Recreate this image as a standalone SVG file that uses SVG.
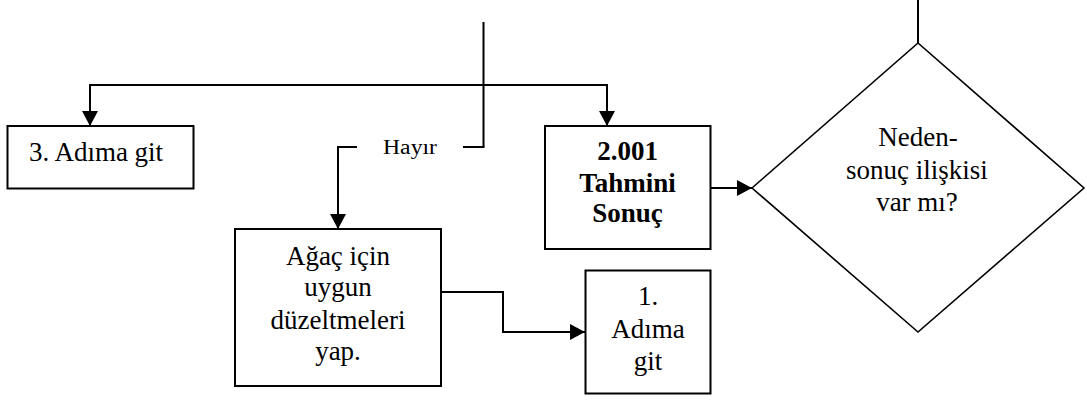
<svg xmlns="http://www.w3.org/2000/svg" width="1087" height="403" viewBox="0 0 1087 403">
<defs>
<marker id="arr" viewBox="0 0 15 16" refX="15" refY="8" markerWidth="15" markerHeight="16" markerUnits="userSpaceOnUse" orient="auto">
<path d="M0,0 L15,8 L0,16 Z" fill="#000"/>
</marker>
<style>
.box{fill:#fff;stroke:#000;stroke-width:2}
.dia{fill:#fff;stroke:#000;stroke-width:1.6}
.ln{fill:none;stroke:#000;stroke-width:2}
text{font-family:'Liberation Serif','Times New Roman','DejaVu Serif',serif;font-size:27px;fill:#000;text-anchor:middle}
.b{font-weight:bold}
.s{font-size:20px}
</style>
</defs>
<rect width="1087" height="403" fill="#fff"/>
<g id="connectors">
<line class="ln" x1="483.5" y1="22" x2="483.5" y2="147"/>
<polyline class="ln" points="90,85 607,85"/>
<line class="ln" x1="90" y1="84" x2="90" y2="126" marker-end="url(#arr)"/>
<line class="ln" x1="607" y1="84" x2="607" y2="126" marker-end="url(#arr)"/>
<line class="ln" x1="463" y1="147" x2="484.5" y2="147"/>
<polyline class="ln" points="357,147 338,147 338,229" marker-end="url(#arr)"/>
<polyline class="ln" points="441,292 503,292 503,332 585,332" marker-end="url(#arr)"/>
<line class="ln" x1="711" y1="188" x2="752" y2="188" marker-end="url(#arr)"/>
<line class="ln" x1="918" y1="0" x2="918" y2="43"/>
<text class="s" x="410" y="153.5" font-family="Liberation Serif, serif" textLength="54" lengthAdjust="spacingAndGlyphs">Hayır</text>
</g>
<g id="node-adim3">
<rect class="box" x="7.5" y="126" width="186" height="62.5"/>
<text x="96" y="161" font-family="Liberation Serif, serif">3. Adıma git</text>
</g>
<g id="node-tahmini" font-family="Liberation Serif, serif">
<rect class="box" x="545" y="126" width="165.5" height="123"/>
<text class="b" x="627.5" y="159.5">2.001</text>
<text class="b" x="627.5" y="191.5">Tahmini</text>
<text class="b" x="627.5" y="221.5">Sonuç</text>
</g>
<g id="node-neden">
<polygon class="dia" points="752,188 918,43 1084,188 918,332"/>
<text x="918" y="145.5">Neden-</text>
<text x="917" y="178.5">sonuç ilişkisi</text>
<text x="917" y="210.5">var mı?</text>
</g>
<g id="node-agac">
<rect class="box" x="235" y="229" width="206" height="157"/>
<text x="338" y="265">Ağaç için</text>
<text x="338" y="296">uygun</text>
<text x="338" y="329">düzeltmeleri</text>
<text x="338" y="359.5">yap.</text>
</g>
<g id="node-adim1">
<rect class="box" x="585.5" y="270.5" width="125" height="123"/>
<text x="648" y="305">1.</text>
<text x="648" y="337.5">Adıma</text>
<text x="648" y="369.5">git</text>
</g>
</svg>
